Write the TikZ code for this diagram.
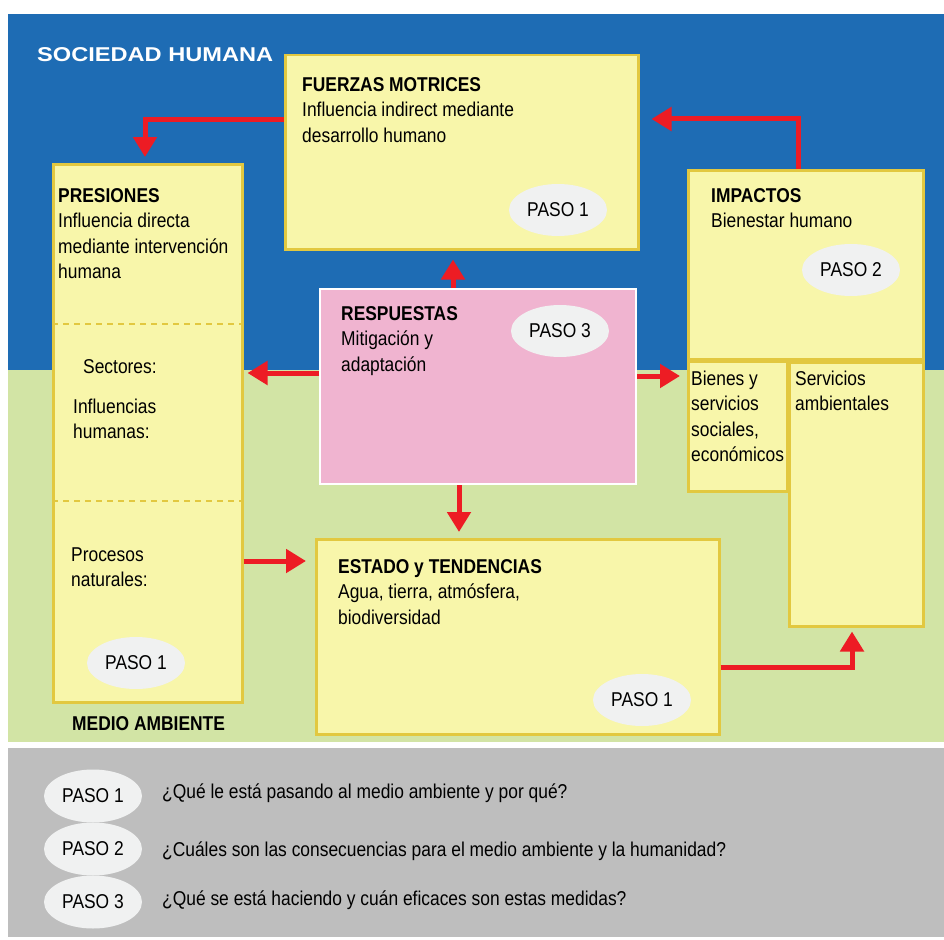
\documentclass[tikz,border=0pt]{standalone}
\usepackage{fontspec}
\setmainfont{Liberation Sans}[FakeStretch=0.87]
\newfontfamily\widefont{Liberation Sans}[FakeStretch=1.18]
\usetikzlibrary{arrows.meta,shapes.geometric}
\definecolor{bgblue}{RGB}{30,108,180}
\definecolor{bggreen}{RGB}{210,228,165}
\definecolor{bggray}{RGB}{190,190,190}
\definecolor{boxfill}{RGB}{248,246,170}
\definecolor{boxline}{RGB}{226,200,64}
\definecolor{pinkfill}{RGB}{240,180,208}
\definecolor{ellfill}{RGB}{240,241,241}
\definecolor{arrowred}{RGB}{237,28,36}
\newcommand{\bodyfont}{\fontsize{20pt}{25.5pt}\selectfont}
\begin{document}
\begin{tikzpicture}[x=1pt,y=-1pt,
  ybox/.style={draw=boxline, line width=2.5pt, fill=boxfill, anchor=north west, inner sep=0pt},
  pbox/.style={draw=white, line width=2pt, fill=pinkfill, anchor=north west, inner sep=0pt},
  txt/.style={anchor=north west, inner sep=0pt, align=left, font=\bodyfont, yshift=17.85pt},
  paso/.style={ellipse, fill=ellfill, minimum width=98pt, minimum height=52pt, inner sep=0pt, font=\bodyfont},
  arr/.style={draw=arrowred, line width=5pt, -{Triangle[width=23pt,length=20pt]}},
  dash line/.style={draw=boxline, line width=2pt, dash pattern=on 6pt off 5pt}
]
\useasboundingbox (0,0) rectangle (944,939);
\fill[white] (0,0) rectangle (944,939);
% backgrounds
\fill[bgblue] (8,14) rectangle (944,370);
\fill[bggreen] (8,370) rectangle (944,742);
\fill[bggray] (8,748) rectangle (944,937);

\node[anchor=base west, inner sep=0pt, text=white, font=\widefont\bfseries\fontsize{20pt}{22pt}\selectfont] (soc) at (37,62) {SOCIEDAD HUMANA};

% boxes
\node[ybox, minimum width=353pt, minimum height=194pt] (fuerzas) at (284,54) {};
\node[ybox, minimum width=189pt, minimum height=538pt] (presiones) at (52,163) {};
\node[ybox, minimum width=235pt, minimum height=189pt] (impactos) at (687,169) {};
\node[ybox, minimum width=99pt, minimum height=130pt] (bienes) at (687,360) {};
\node[ybox, minimum width=134pt, minimum height=264pt] (servicios) at (788,361) {};
\node[pbox, minimum width=316pt, minimum height=195pt] (respuestas) at (319,288) {};
\node[ybox, minimum width=403pt, minimum height=195pt] (estado) at (315,538) {};

\draw[dash line] (52,324) -- (241,324);
\draw[dash line] (52,501) -- (241,501);

% texts
\node[txt] (tfuerzas) at (302,91) {\strut\textbf{FUERZAS MOTRICES}\\Influencia indirect mediante\\desarrollo humano};
\node[txt] (tpresiones) at (58,202) {\strut\textbf{PRESIONES}\\Influencia directa\\mediante intervención\\humana};
\node[txt] (tsectores) at (83,373) {\strut Sectores:};
\node[txt] (tinfl) at (73,413) {\strut Influencias\\humanas:};
\node[txt] (tproc) at (71,561) {\strut Procesos\\naturales:};
\node[anchor=base west, inner sep=0pt, font=\bodyfont\bfseries] (medio) at (72,730) {MEDIO AMBIENTE};
\node[txt] (timpactos) at (711,202) {\strut\textbf{IMPACTOS}\\Bienestar humano};
\node[txt] (tbienes) at (691,385) {\strut Bienes y\\servicios\\sociales,\\económicos};
\node[txt] (tservicios) at (795,385) {\strut Servicios\\ambientales};
\node[txt] (trespuestas) at (341,320) {\strut\textbf{RESPUESTAS}\\Mitigación y\\adaptación};
\node[txt] (testado) at (338,573) {\strut\textbf{ESTADO y TENDENCIAS}\\Agua, tierra, atmósfera,\\biodiversidad};

% paso ellipses
\node[paso] (p1f) at (558,210) {PASO 1};
\node[paso] (p1p) at (136,663) {PASO 1};
\node[paso] (p2i) at (851,270) {PASO 2};
\node[paso] (p3r) at (560,331) {PASO 3};
\node[paso] (p1e) at (642,700) {PASO 1};

% arrows
\coordinate (a1) at ([yshift=-66pt]fuerzas.north west);
\draw[arr] (a1) -| ([xshift=93pt,yshift=6pt]presiones.north west);
\coordinate (a2) at ([xshift=111pt]impactos.north west);
\draw[arr] (a2) |- ([xshift=12pt,yshift=-65pt]fuerzas.north east);
\coordinate (a3) at ([xshift=134pt]respuestas.north west);
\draw[arr] (a3) -- ([yshift=-9pt]a3 |- fuerzas.south);
\coordinate (a4) at ([yshift=-85pt]respuestas.north west);
\draw[arr] (a4) -- ([xshift=4pt]a4 -| presiones.east);
\coordinate (a5) at ([yshift=-88pt]respuestas.north east);
\draw[arr] (a5) -- ([xshift=-7pt]a5 -| bienes.west);
\coordinate (a6) at ([xshift=140pt]respuestas.south west);
\draw[arr] (a6) -- ([yshift=6pt]a6 |- estado.north);
\coordinate (a7) at ([yshift=-398pt]presiones.north east);
\draw[arr] (a7) -- ([xshift=-9pt]a7 -| estado.west);
\coordinate (a8) at ([yshift=-129pt]estado.north east);
\draw[arr] (a8) -| ([xshift=64pt,yshift=-4pt]servicios.south west);

% legend
\node[paso, minimum height=53pt] (l1) at (93,796) {PASO 1};
\node[paso, minimum height=53pt] (l2) at (93,849) {PASO 2};
\node[paso, minimum height=53pt] (l3) at (93,902) {PASO 3};
\node[anchor=west, inner sep=0pt, font=\bodyfont] (q1) at (162,793) {¿Qué le está pasando al medio ambiente y por qué?};
\node[anchor=west, inner sep=0pt, font=\bodyfont] (q2) at (162,851) {¿Cuáles son las consecuencias para el medio ambiente y la humanidad?};
\node[anchor=west, inner sep=0pt, font=\bodyfont] (q3) at (162,900) {¿Qué se está haciendo y cuán eficaces son estas medidas?};
\end{tikzpicture}
\end{document}
